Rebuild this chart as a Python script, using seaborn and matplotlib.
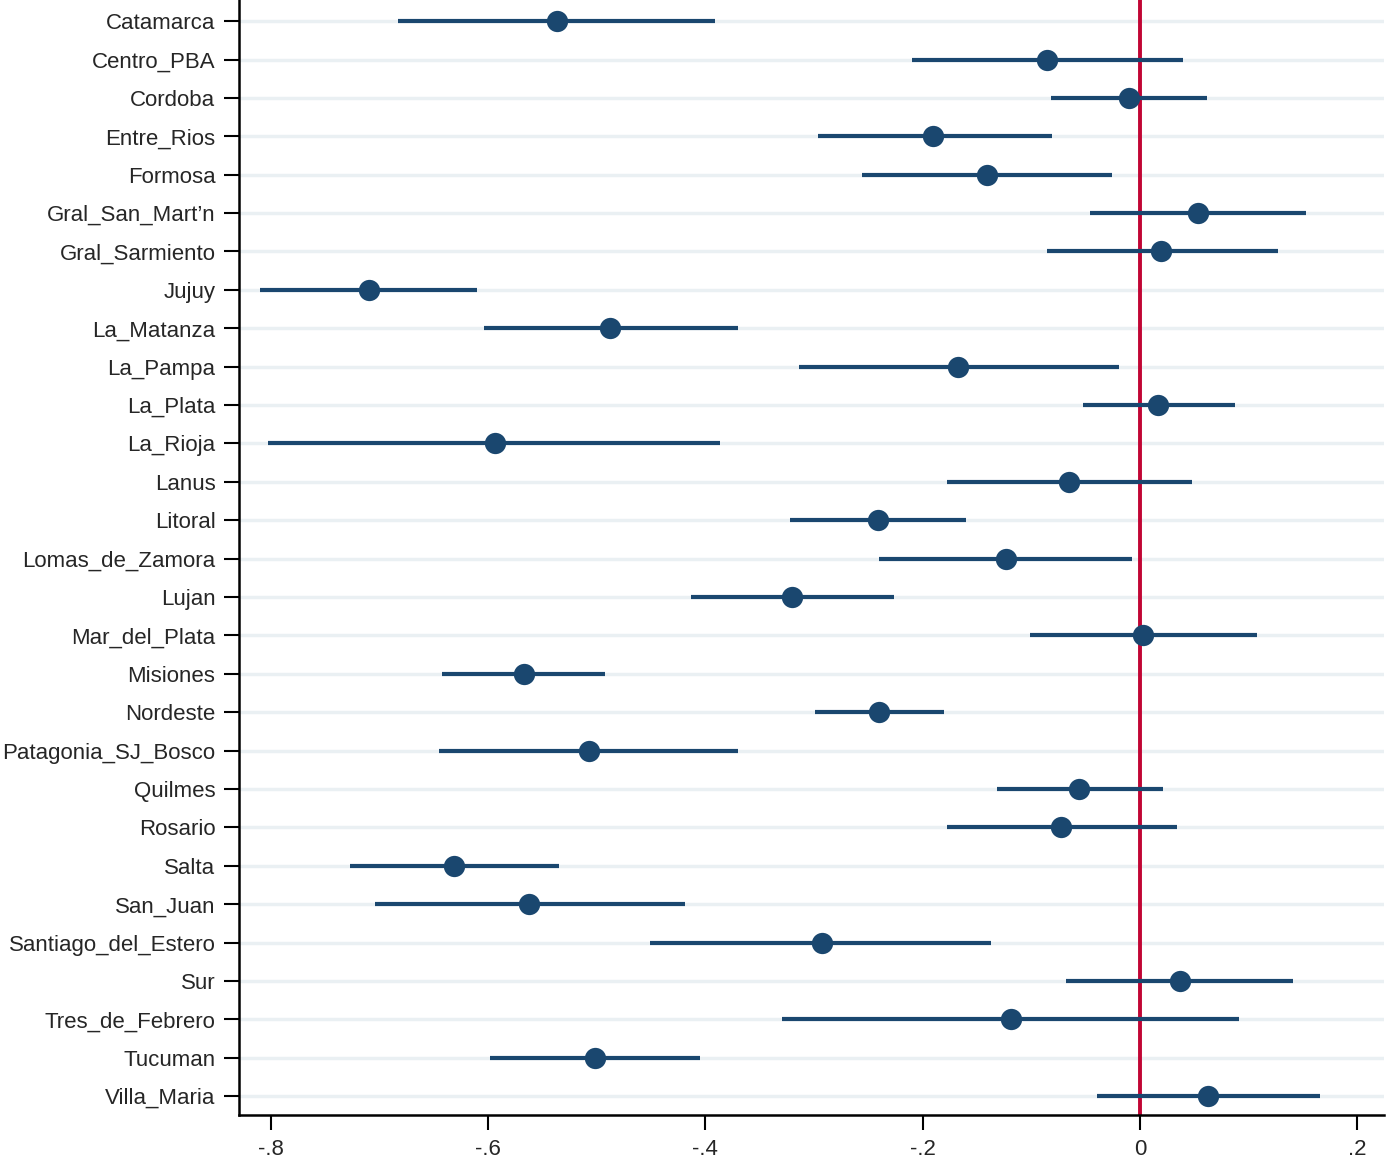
import pandas as pd
import matplotlib.pyplot as plt
import seaborn as sns

regions = ['Catamarca', 'Centro_PBA', 'Cordoba', 'Entre_Rios', 'Formosa',
           'Gral_San_Mart\u2019n', 'Gral_Sarmiento', 'Jujuy', 'La_Matanza', 'La_Pampa',
           'La_Plata', 'La_Rioja', 'Lanus', 'Litoral', 'Lomas_de_Zamora', 'Lujan',
           'Mar_del_Plata', 'Misiones', 'Nordeste', 'Patagonia_SJ_Bosco', 'Quilmes',
           'Rosario', 'Salta', 'San_Juan', 'Santiago_del_Estero', 'Sur',
           'Tres_de_Febrero', 'Tucuman', 'Villa_Maria']
coef = [-0.536, -0.086, -0.010, -0.190, -0.141, 0.053, 0.019, -0.709, -0.488, -0.167,
        0.017, -0.593, -0.065, -0.241, -0.123, -0.320, 0.003, -0.567, -0.240, -0.507,
        -0.056, -0.073, -0.631, -0.562, -0.293, 0.037, -0.119, -0.501, 0.063]
ci_low = [-0.683, -0.210, -0.082, -0.296, -0.256, -0.046, -0.086, -0.810, -0.604, -0.314,
          -0.052, -0.802, -0.178, -0.322, -0.240, -0.413, -0.101, -0.642, -0.299, -0.645,
          -0.132, -0.178, -0.727, -0.704, -0.451, -0.068, -0.329, -0.598, -0.040]
ci_high = [-0.391, 0.040, 0.062, -0.081, -0.026, 0.153, 0.127, -0.610, -0.370, -0.019,
           0.087, -0.386, 0.048, -0.160, -0.007, -0.226, 0.108, -0.492, -0.180, -0.370,
           0.021, 0.034, -0.535, -0.419, -0.137, 0.141, 0.091, -0.405, 0.166]
xticks = [-0.8, -0.6, -0.4, -0.2, 0, 0.2]
xticklabels = ['-.8', '-.6', '-.4', '-.2', '0', '.2']

df = pd.DataFrame({'region': regions, 'coef': coef, 'low': ci_low, 'high': ci_high})

sns.set_style('white')
plt.rcParams['font.family'] = ['Liberation Sans', 'DejaVu Sans']

navy = '#1a476f'
fig = plt.figure(figsize=(13.86, 11.74), dpi=100)
ax = fig.add_axes([239 / 1386, 59 / 1174, (1384 - 239) / 1386, (1174 - 59) / 1174])

# light horizontal grid lines at every category
for r in regions:
    ax.axhline(r, color='#eaf0f3', lw=2.5, zorder=0)

ax.hlines(df['region'], df['low'], df['high'], color=navy, lw=3, zorder=2)
sns.scatterplot(data=df, x='coef', y='region', ax=ax, color=navy, s=235,
                edgecolor=navy, linewidth=0, zorder=3, legend=False)
ax.axvline(0, color='#c10534', lw=2.8, zorder=1)

ax.set_xlim(-0.829, 0.2245)
ax.set_ylim(len(regions) - 1 + 0.49, -0.55)
ax.set_xticks(xticks)
ax.set_xticklabels(xticklabels)
ax.set_xlabel('')
ax.set_ylabel('')

for s in ['top', 'right']:
    ax.spines[s].set_visible(False)
for s in ['left', 'bottom']:
    ax.spines[s].set_color('black')
    ax.spines[s].set_linewidth(1.8)
ax.tick_params(axis='both', labelsize=16, length=11, width=1.5, color='black',
               direction='out', pad=6, left=True, bottom=True)

fig.savefig('out.png', dpi=100)
